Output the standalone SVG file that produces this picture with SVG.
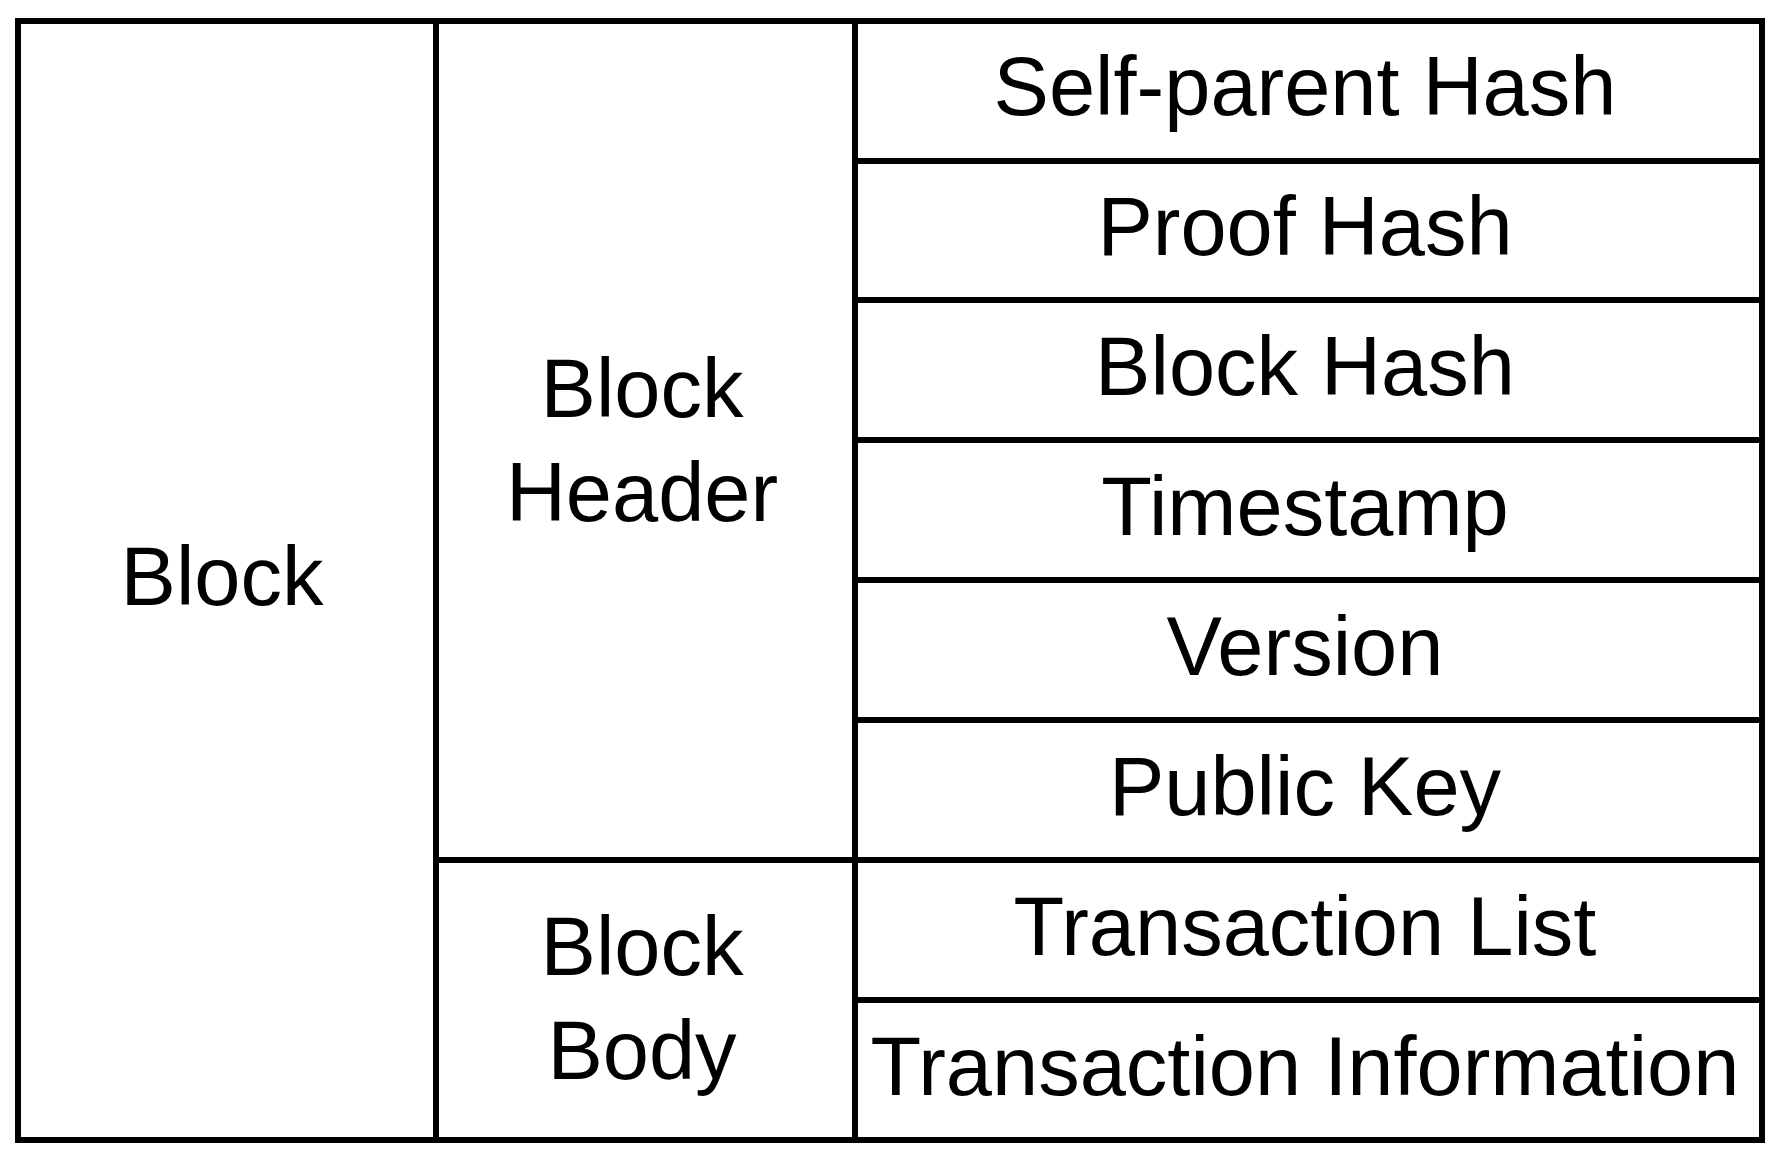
<svg xmlns="http://www.w3.org/2000/svg" width="1774" height="1155" viewBox="0 0 1774 1155">
  <style>
    .cell { fill: #ffffff; stroke: #000000; stroke-width: 6; }
    .line { stroke: #000000; stroke-width: 6; fill: none; }
    .lbl { font-family: "Liberation Sans", Arial, sans-serif; font-size: 83px; fill: #000000; text-anchor: middle; }
  </style>
  <rect x="0" y="0" width="1774" height="1155" fill="#ffffff"/>
  <g id="block">
    <rect class="cell" x="18" y="21" width="1744" height="1119"/>
    <text class="lbl" x="222" y="605">Block</text>
  </g>
  <g id="connectors">
    <line class="line" x1="436" y1="21" x2="436" y2="1140"/>
    <line class="line" x1="855" y1="21" x2="855" y2="1140"/>
    <line class="line" x1="436" y1="860" x2="855" y2="860"/>
    <line class="line" x1="855" y1="161" x2="1762" y2="161"/>
    <line class="line" x1="855" y1="300" x2="1762" y2="300"/>
    <line class="line" x1="855" y1="440" x2="1762" y2="440"/>
    <line class="line" x1="855" y1="580" x2="1762" y2="580"/>
    <line class="line" x1="855" y1="720" x2="1762" y2="720"/>
    <line class="line" x1="855" y1="860" x2="1762" y2="860"/>
    <line class="line" x1="855" y1="1000" x2="1762" y2="1000"/>
  </g>
  <g id="block-header">
    <text class="lbl" x="642" y="417">Block</text>
    <text class="lbl" x="642" y="521">Header</text>
  </g>
  <g id="block-body">
    <text class="lbl" x="642" y="975">Block</text>
    <text class="lbl" x="642" y="1079">Body</text>
  </g>
  <g id="self-parent-hash"><text class="lbl" x="1305" y="115">Self-parent Hash</text></g>
  <g id="proof-hash"><text class="lbl" x="1305" y="255">Proof Hash</text></g>
  <g id="block-hash"><text class="lbl" x="1305" y="395">Block Hash</text></g>
  <g id="timestamp"><text class="lbl" x="1305" y="535">Timestamp</text></g>
  <g id="version"><text class="lbl" x="1305" y="675">Version</text></g>
  <g id="public-key"><text class="lbl" x="1305" y="815">Public Key</text></g>
  <g id="transaction-list"><text class="lbl" x="1305" y="955">Transaction List</text></g>
  <g id="transaction-information"><text class="lbl" x="1305" y="1095">Transaction Information</text></g>
</svg>
